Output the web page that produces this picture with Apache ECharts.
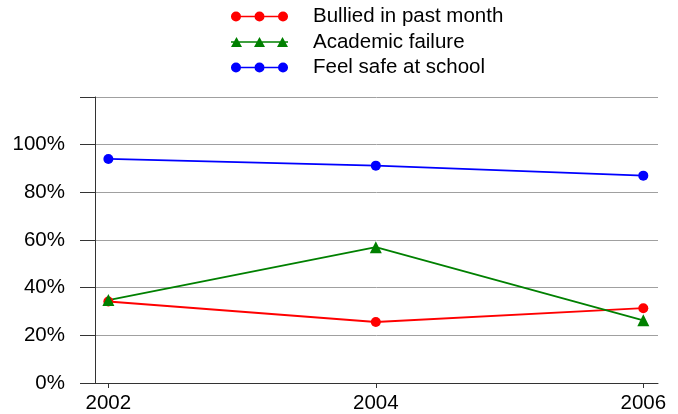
<!DOCTYPE html>
<html>
<head>
<meta charset="utf-8">
<script src="https://cdn.jsdelivr.net/npm/echarts@6/dist/echarts.min.js"></script>
<style>html,body{margin:0;padding:0;background:#fff}#c{width:678px;height:414px}</style>
</head>
<body>
<div id="c"></div>
<script>
var years = [2002, 2004, 2006];
var seriesNames = ['Bullied in past month', 'Academic failure', 'Feel safe at school'];
var bullied = [34.2, 25.6, 31.4];
var academic = [34.8, 57.0, 26.3];
var feelSafe = [94.0, 91.2, 87.0];
var yTicks = [0, 20, 40, 60, 80, 100, 120];

var chart = echarts.init(document.getElementById('c'));
var FONT = 'Liberation Sans, Arial, sans-serif';
var FS = 20.5;
function pairs(vals){ return years.map(function(y,i){ return [y, vals[i]]; }); }
var circIcon = 'path://M0 4.3L57 4.3L57 5.7L0 5.7Z' +
  'M0 5a5 5 0 1 1 10 0a5 5 0 1 1 -10 0Z' +
  'M23.5 5a5 5 0 1 1 10 0a5 5 0 1 1 -10 0Z' +
  'M47 5a5 5 0 1 1 10 0a5 5 0 1 1 -10 0Z';
var triIcon = 'path://M0 4.3L57 4.3L57 5.7L0 5.7Z' +
  'M0 10L5.5 0L11 10Z M23 10L28.5 0L34 10Z M46 10L51.5 0L57 10Z';

function mk(name, vals, color, symbol, size){
  return {
    name: name, type: 'line', data: pairs(vals),
    symbol: symbol, symbolSize: size,
    lineStyle: {color: color, width: 1.8},
    itemStyle: {color: color},
    animation: false
  };
}

chart.setOption({
  animation: false,
  textStyle: {fontFamily: FONT},
  legend: {
    orient: 'vertical', left: 226, top: 1,
    itemWidth: 57, itemHeight: 10, itemGap: 4.5,
    symbolKeepAspect: false,
    textStyle: {fontFamily: FONT, fontSize: FS, color: '#000', lineHeight: 20, padding: [0,0,0,20]},
    data: [
      {name: seriesNames[0], icon: circIcon},
      {name: seriesNames[1], icon: triIcon},
      {name: seriesNames[2], icon: circIcon}
    ]
  },
  grid: {left: 95, right: 20, top: 97, bottom: 31, containLabel: false},
  xAxis: {
    type: 'value', min: 2001.9, max: 2006.11,
    offset: 2,
    axisLine: {show: true, lineStyle: {color: '#333', width: 1}},
    axisTick: {show: true, length: 5, lineStyle: {color: '#333'}, customValues: years},
    axisLabel: {fontFamily: FONT, fontSize: FS, color: '#000', margin: 8, customValues: years, formatter: function(v){ return String(v); }},
    splitLine: {show: false}
  },
  yAxis: {
    type: 'value', min: 0, max: 120, interval: 20,
    axisLine: {show: true, lineStyle: {color: '#333', width: 1}},
    axisTick: {show: true, inside: false, length: 15, lineStyle: {color: '#333'}},
    axisLabel: {fontFamily: FONT, fontSize: FS, color: '#000', margin: 30,
      formatter: function(v){ return v === yTicks[yTicks.length-1] ? '' : v + '%'; }},
    splitLine: {show: true, lineStyle: {color: '#a0a0a0', width: 1}}
  },
  series: [
    mk(seriesNames[0], bullied, '#ff0000', 'circle', 10),
    mk(seriesNames[1], academic, '#008000', 'triangle', 12),
    mk(seriesNames[2], feelSafe, '#0000ff', 'circle', 10)
  ]
});
</script>
</body>
</html>
